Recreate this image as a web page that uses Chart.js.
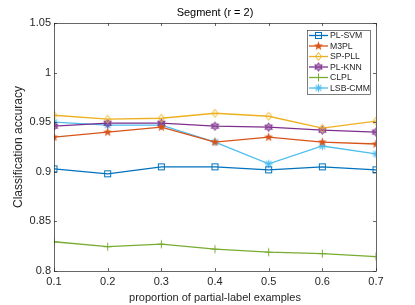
<!DOCTYPE html>
<html><head><meta charset="utf-8">
<script src="https://cdn.jsdelivr.net/npm/chart.js@4/dist/chart.umd.min.js"></script>
<style>html,body{margin:0;padding:0;background:#fff}#wrap{width:415px;height:305px}</style>
</head><body><div id="wrap"><canvas id="c" width="415" height="305"></canvas></div>
<script>
const proportions = [0.1, 0.2, 0.3, 0.4, 0.5, 0.6, 0.7];
const seriesNames = ['PL-SVM', 'M3PL', 'SP-PLL', 'PL-KNN', 'CLPL', 'LSB-CMM'];
const plSvm  = [0.903, 0.898, 0.905, 0.905, 0.902, 0.905, 0.902];
const m3pl   = [0.935, 0.940, 0.945, 0.930, 0.935, 0.930, 0.928];
const spPll  = [0.957, 0.953, 0.954, 0.959, 0.956, 0.944, 0.951];
const plKnn  = [0.946, 0.949, 0.949, 0.946, 0.945, 0.942, 0.940];
const clpl   = [0.8295, 0.8245, 0.827, 0.822, 0.819, 0.8175, 0.8145];
const lsbCmm = [0.950, 0.947, 0.947, 0.930, 0.908, 0.926, 0.918];
const yTicks = [0.8, 0.85, 0.9, 0.95, 1, 1.05];
const xTicks = [0.1, 0.2, 0.3, 0.4, 0.5, 0.6, 0.7];

const colors = ['#0072BD', '#D95319', '#EDB120', '#7E2F8E', '#77AC30', '#4DBEEE'];
const markerTypes = ['square', 'pentagram', 'diamond', 'hexagram', 'plus', 'asterisk'];
const values = [plSvm, m3pl, spPll, plKnn, clpl, lsbCmm];

function makeMarker(type, color) {
  const s = 11, c = document.createElement('canvas');
  c.width = s; c.height = s;
  const g = c.getContext('2d');
  const m = s / 2;
  g.strokeStyle = color; g.fillStyle = color; g.lineWidth = 1;
  g.beginPath();
  if (type === 'square') {
    g.strokeRect(m - 3, m - 3, 6, 6);
  } else if (type === 'diamond') {
    g.moveTo(m, m - 4); g.lineTo(m + 3, m); g.lineTo(m, m + 4); g.lineTo(m - 3, m); g.closePath(); g.stroke();
  } else if (type === 'pentagram' || type === 'hexagram') {
    const n = type === 'pentagram' ? 5 : 6;
    const ro = type === 'pentagram' ? 4.8 : 4.3, ri = type === 'pentagram' ? 2.0 : 2.4;
    for (let i = 0; i < 2 * n; i++) {
      const r = i % 2 ? ri : ro;
      const a = -Math.PI / 2 + i * Math.PI / n;
      const x = m + r * Math.cos(a), y = m + r * Math.sin(a);
      if (i) g.lineTo(x, y); else g.moveTo(x, y);
    }
    g.closePath();
    if (type === 'pentagram') { g.fill(); }
    else { g.globalAlpha = 0.55; g.fill(); g.globalAlpha = 1; g.stroke(); }
  } else if (type === 'plus') {
    g.moveTo(m, m - 4); g.lineTo(m, m + 4); g.moveTo(m - 4, m); g.lineTo(m + 4, m); g.stroke();
  } else if (type === 'asterisk') {
    g.lineWidth = 1.2;
    g.moveTo(m, m - 4); g.lineTo(m, m + 4); g.moveTo(m - 4, m); g.lineTo(m + 4, m);
    const d = 2.9;
    g.moveTo(m - d, m - d); g.lineTo(m + d, m + d); g.moveTo(m - d, m + d); g.lineTo(m + d, m - d); g.stroke();
  }
  return c;
}
const markers = markerTypes.map((t, i) => makeMarker(t, colors[i]));

const datasets = seriesNames.map((name, i) => ({
  label: name,
  data: proportions.map((x, j) => ({ x: x, y: values[i][j] })),
  borderColor: colors[i],
  backgroundColor: colors[i],
  borderWidth: 1.3,
  pointStyle: markers[i],
  pointRadius: 4,
  tension: 0,
  fill: false
}));

const FONT = 'Liberation Sans, Arial, sans-serif';
const TXT = '#262626';

const decor = {
  id: 'decor',
  afterDraw(chart) {
    const g = chart.ctx, a = chart.chartArea;
    const xs = chart.scales.x, ys = chart.scales.y;
    g.save();
    g.strokeStyle = '#262626'; g.lineWidth = 0.7;
    g.strokeRect(Math.round(a.left) + 0.5, Math.round(a.top) + 0.5, Math.round(a.right - a.left), Math.round(a.bottom - a.top));
    g.beginPath();
    const tl = 3;
    xTicks.forEach(v => {
      const x = Math.round(xs.getPixelForValue(v)) + 0.5;
      g.moveTo(x, a.bottom); g.lineTo(x, a.bottom - tl);
      g.moveTo(x, a.top); g.lineTo(x, a.top + tl);
    });
    yTicks.forEach(v => {
      const y = Math.round(ys.getPixelForValue(v)) + 0.5;
      g.moveTo(a.left, y); g.lineTo(a.left + tl, y);
      g.moveTo(a.right, y); g.lineTo(a.right - tl, y);
    });
    g.stroke();
    g.fillStyle = '#000';
    g.font = '11px ' + FONT;
    g.textAlign = 'center'; g.textBaseline = 'middle';
    g.fillText('Segment (r = 2)', (a.left + a.right) / 2, 13);
    const lx = 307, ly = 30, lw = 63, lh = 64;
    g.fillStyle = '#fff';
    g.fillRect(lx, ly, lw, lh);
    g.strokeStyle = '#262626'; g.lineWidth = 0.6;
    g.strokeRect(lx + 0.5, ly + 0.5, lw, lh);
    g.font = '8.7px ' + FONT;
    g.textAlign = 'left';
    seriesNames.forEach((name, i) => {
      const y = ly + 5.5 + i * 10.5;
      g.strokeStyle = colors[i]; g.lineWidth = 1.3;
      g.beginPath(); g.moveTo(lx + 2, y); g.lineTo(lx + 21, y); g.stroke();
      g.drawImage(markers[i], lx + 11.5 - 5.5, y - 5.5);
      g.fillStyle = TXT;
      g.fillText(name, lx + 23, y + 0.5);
    });
    g.restore();
  }
};

new Chart(document.getElementById('c'), {
  type: 'line',
  data: { datasets: datasets },
  options: {
    responsive: false,
    animation: false,
    layout: { padding: { left: 0, right: 39, top: 23, bottom: 0 } },
    plugins: { legend: { display: false }, title: { display: false }, tooltip: { enabled: false } },
    scales: {
      x: {
        type: 'linear', min: 0.1, max: 0.7,
        afterBuildTicks: s => { s.ticks = xTicks.map(v => ({ value: v })); },
        ticks: { color: TXT, font: { family: FONT, size: 11 }, padding: 4, maxRotation: 0,
                 callback: v => String(Math.round(v * 10) / 10) },
        grid: { display: false, drawTicks: false },
        border: { display: false },
        title: { display: true, text: 'proportion of partial-label examples', color: TXT,
                 font: { family: FONT, size: 11 }, padding: { top: 2, bottom: 0 } },
        afterFit: s => { s.height = 34; }
      },
      y: {
        type: 'linear', min: 0.8, max: 1.05,
        afterBuildTicks: s => { s.ticks = yTicks.map(v => ({ value: v })); },
        ticks: { color: TXT, font: { family: FONT, size: 11 }, padding: 3,
                 callback: v => String(Math.round(v * 100) / 100) },
        grid: { display: false, drawTicks: false },
        border: { display: false },
        title: { display: true, text: 'Classification accuracy', color: TXT,
                 font: { family: FONT, size: 12 }, padding: { top: 11, bottom: 0 } },
        afterFit: s => { s.width = 54; }
      }
    }
  },
  plugins: [decor]
});
</script>
</body></html>
